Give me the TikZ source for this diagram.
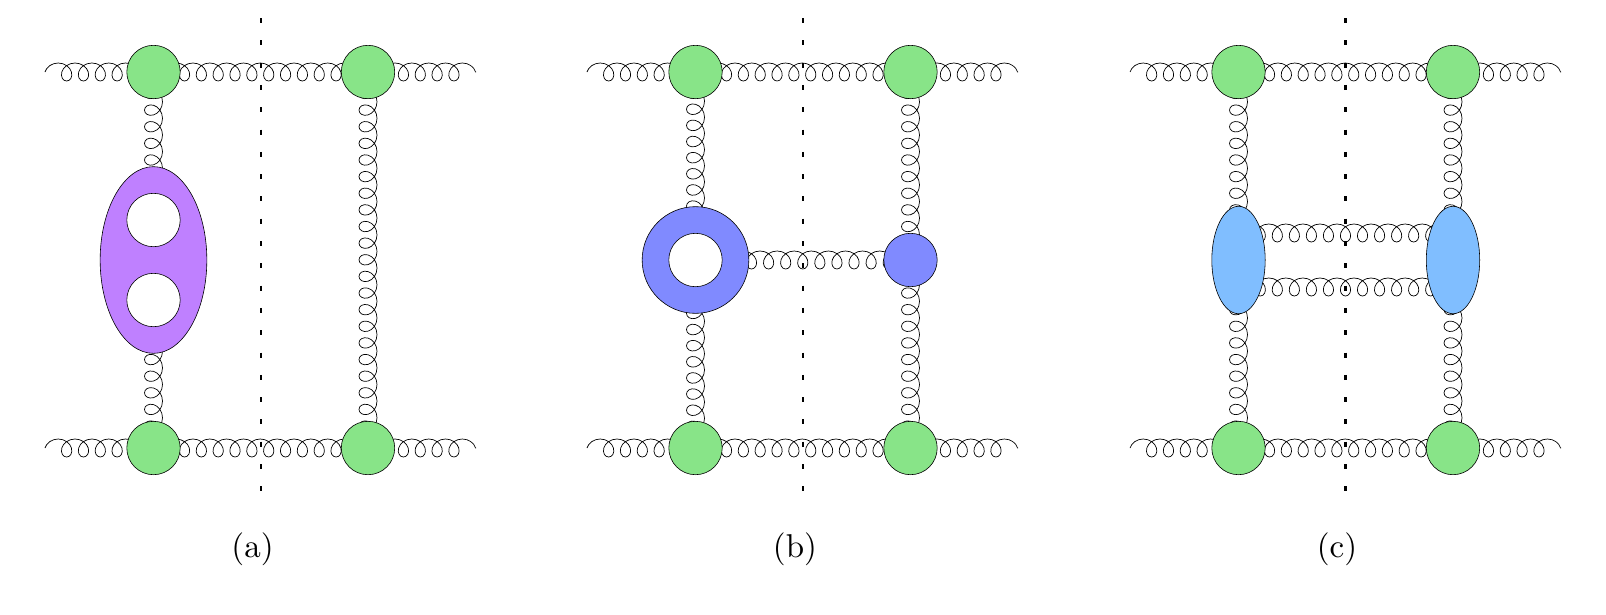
\documentclass[tikz,border=0pt]{standalone}
\usetikzlibrary{decorations.pathmorphing,shapes.geometric,backgrounds,calc}
\definecolor{blobgreen}{RGB}{136,228,136}
\definecolor{violetblob}{RGB}{191,128,255}
\definecolor{ringblue}{RGB}{128,138,255}
\definecolor{lightblue}{RGB}{128,190,255}
\tikzset{
    gluon/.style = {decorate, decoration={coil, amplitude=9pt, aspect=1, segment length=#1}, line width=0.7pt},
    blob/.style = {circle, draw, line width=0.6pt, fill=blobgreen, minimum size=53.4pt, inner sep=0pt},
    hole/.style = {circle, draw, line width=0.6pt, fill=white, minimum size=53.4pt, inner sep=0pt},
    cut/.style = {line width=2.1pt, dash pattern=on 5pt off 17.3pt},
    panel/.style = {scale=3.3, anchor=base, inner sep=0pt}
}

\begin{document}
\begin{tikzpicture}[x=1pt,y=-1pt]
\useasboundingbox (0,0) rectangle (1606,614);

% (a)
\node[blob] (aT1) at (153.5,72) {};
\node[blob] (aT2) at (368,72) {};
\node[blob] (aB1) at (153.5,448) {};
\node[blob] (aB2) at (368,448) {};
\coordinate (aTL) at (45,72);
\coordinate (aTR) at (476,72);
\coordinate (aBL) at (45,448);
\coordinate (aBR) at (476,448);
\node[ellipse, draw, line width=0.6pt, fill=violetblob, minimum width=106.7pt, minimum height=186.7pt, inner sep=0pt] (aE) at (153.5,260) {};
\node[hole] (aH1) at (153.5,220) {};
\node[hole] (aH2) at (153.5,300) {};
\begin{pgfonlayer}{background}
\draw[gluon=16.84pt] (aTL) -- (aT1.center) -- (aT2.center) -- (aTR);
\draw[gluon=16.84pt] (aBL) -- (aB1.center) -- (aB2.center) -- (aBR);
\draw[gluon=16.63pt] (aT1.center) -- (aE.center) -- (aB1.center);
\draw[gluon=16.63pt] (aT2.center) -- (aB2.center);
\end{pgfonlayer}
\draw[cut] (261,18) -- (261,493);
\node[panel] (la) at (252.5,557) {(a)};

% (b)
\node[blob] (bT1) at (695.5,72) {};
\node[blob] (bT2) at (910.5,72) {};
\node[blob] (bB1) at (695.5,448) {};
\node[blob] (bB2) at (910.5,448) {};
\coordinate (bTL) at (587,72);
\coordinate (bTR) at (1018,72);
\coordinate (bBL) at (587,448);
\coordinate (bBR) at (1018,448);
\node[circle, draw, line width=0.6pt, fill=ringblue, minimum size=106.7pt, inner sep=0pt] (bR) at (695.5,260) {};
\node[hole] (bH) at (695.5,260) {};
\node[circle, draw, line width=0.6pt, fill=ringblue, minimum size=53.4pt, inner sep=0pt] (bS) at (910.5,260) {};
\begin{pgfonlayer}{background}
\draw[gluon=16.84pt] (bTL) -- (bT1.center) -- (bT2.center) -- (bTR);
\draw[gluon=16.84pt] (bBL) -- (bB1.center) -- (bB2.center) -- (bBR);
\draw[gluon=16.14pt] (bT1.center) -- (bR.center);
\draw[gluon=16.14pt] (bR.center) -- (bB1.center);
\draw[gluon=16.63pt] (bT2.center) -- (bS.center) -- (bB2.center);
\draw[gluon=17.09pt] (bR.center) -- (bS.center);
\end{pgfonlayer}
\draw[cut] (803,18) -- (803,493);
\node[panel] (lb) at (795,557) {(b)};

% (c)
\node[blob] (cT1) at (1238.5,72) {};
\node[blob] (cT2) at (1453,72) {};
\node[blob] (cB1) at (1238.5,448) {};
\node[blob] (cB2) at (1453,448) {};
\coordinate (cTL) at (1130,72);
\coordinate (cTR) at (1561,72);
\coordinate (cBL) at (1130,448);
\coordinate (cBR) at (1561,448);
\node[ellipse, draw, line width=0.6pt, fill=lightblue, minimum width=53.4pt, minimum height=107.4pt, inner sep=0pt] (cE1) at (1238.5,260) {};
\node[ellipse, draw, line width=0.6pt, fill=lightblue, minimum width=53.4pt, minimum height=107.4pt, inner sep=0pt] (cE2) at (1453,260) {};
\begin{pgfonlayer}{background}
\draw[gluon=16.84pt] (cTL) -- (cT1.center) -- (cT2.center) -- (cTR);
\draw[gluon=16.84pt] (cBL) -- (cB1.center) -- (cB2.center) -- (cBR);
\draw[gluon=16.63pt] (cT1.center) -- (cE1.center) -- (cB1.center);
\draw[gluon=16.63pt] (cT2.center) -- (cE2.center) -- (cB2.center);
\draw[gluon=17.04pt] ($(cE1.center)+(0,-27)$) -- ($(cE2.center)+(0,-27)$);
\draw[gluon=17.04pt] ($(cE1.center)+(0,27)$) -- ($(cE2.center)+(0,27)$);
\end{pgfonlayer}
\draw[cut] (1345.5,18) -- (1345.5,493);
\node[panel] (lc) at (1337,557) {(c)};
\end{tikzpicture}
\end{document}
